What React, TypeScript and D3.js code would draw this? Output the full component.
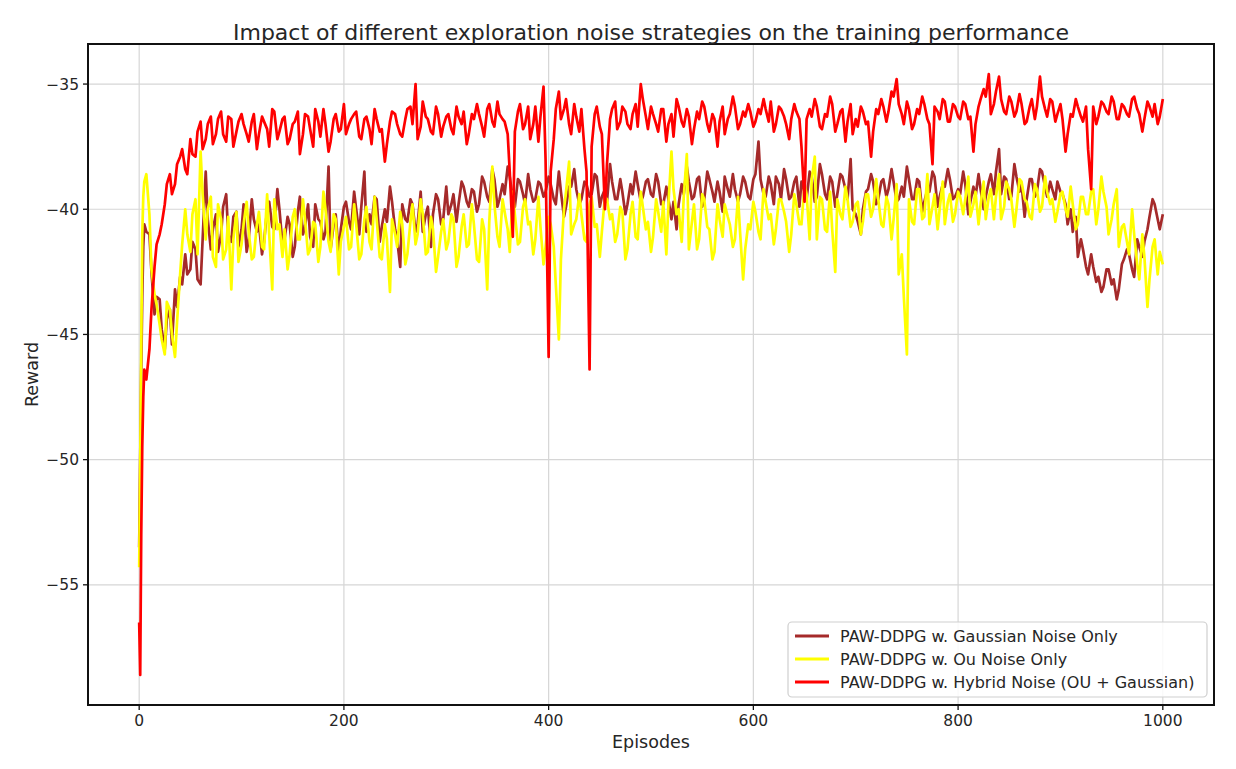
import React from 'react';
import * as d3 from 'd3';

// episodes read on a coarse grid: 0-4 one by one, then every 5th episode
const earlyEpisodes = [0, 1, 2, 3, 4];
const episodes = [...earlyEpisodes, ...d3.range(5, 1001, 5)];
// extra readings between them (episodes 7, 12, ... 997)
const midEpisodes = d3.range(7, 1000, 5);

const gaussianReward = [
  -53.5, -50.0, -46.5, -43.5, -41.5,
  -40.6, -41.0, -44.2, -43.6, -45.6, -44.0, -43.2, -42.7, -41.8, -42.4, -41.6, -43.0, -38.5, -41.6, -40.2, -41.0, -39.4, -41.3, -40.1, -40.8,
  -41.7, -39.6, -40.9, -41.8, -40.0, -40.7, -39.2, -41.4, -40.3, -41.9, -40.1, -41.0, -39.8, -41.5, -40.4, -41.2, -38.3, -40.6, -41.8, -39.9,
  -40.5, -39.3, -41.0, -38.5, -40.2, -39.5, -41.3, -40.0, -39.1, -40.8, -42.3, -40.4, -39.6, -40.9, -39.3, -40.2, -41.5, -39.4, -40.6, -39.1,
  -39.8, -40.5, -38.9, -39.7, -39.2, -40.1, -38.7, -39.5, -38.4, -39.9, -39.0, -38.3, -39.6, -38.8, -39.4, -38.6, -39.7, -38.9, -39.5, -38.7,
  -39.6, -38.5, -40.3, -39.1, -38.4, -39.8, -38.9, -39.5, -38.6, -39.9, -39.2, -38.2, -39.6, -38.8, -40.2, -39.0, -38.5, -39.7, -38.9, -39.4,
  -38.6, -39.8, -39.1, -40.4, -40.8, -39.0, -38.3, -39.6, -38.8, -39.9, -38.5, -39.3, -38.9, -40.1, -39.2, -38.6, -39.7, -38.7, -39.5, -38.8,
  -37.3, -39.4, -38.7, -39.8, -39.0, -38.4, -39.6, -38.9, -39.9, -39.3, -38.5, -39.7, -38.2, -39.4, -38.7, -39.9, -38.6, -39.2, -38.0, -40.2,
  -41.0, -39.3, -38.6, -39.8, -38.9, -39.5, -38.4, -39.7, -39.1, -38.3, -39.6, -38.8, -40.1, -39.2, -38.5, -39.9, -39.0, -38.4, -39.6, -39.2,
  -38.5, -40.2, -39.1, -38.6, -40.0, -38.9, -39.4, -37.6, -38.7, -39.6, -38.2, -39.3, -40.3, -38.8, -39.5, -38.4, -39.1, -38.9, -39.6, -39.3,
  -39.8, -40.0, -40.3, -41.2, -42.3, -41.8, -42.9, -43.3, -42.4, -43.0, -43.6, -42.2, -41.6, -42.4, -41.2, -41.9, -40.8, -39.6, -40.4, -40.2,
];
const gaussianRewardMid = [
  -40.9, -42.5, -43.5, -44.8, -44.4, -45.4, -43.9, -43.0, -42.6, -41.3, -42.8, -41.2, -40.4, -40.8, -41.7, -39.9, -41.0, -40.3, -41.5,
  -39.8, -41.2, -40.4, -40.6, -41.3, -39.7, -40.8, -40.0, -41.2, -40.6, -41.5, -39.5, -40.7, -41.1, -39.8, -40.5, -40.9, -41.6, -40.2, -40.8,
  -39.7, -40.8, -40.0, -39.9, -40.9, -40.6, -39.6, -40.7, -40.5, -39.7, -41.2, -39.8, -40.5, -39.8, -40.6, -40.9, -39.9, -40.2, -39.6, -40.4,
  -40.2, -39.4, -39.8, -39.1, -39.9, -39.3, -39.8, -38.9, -39.7, -38.8, -39.6, -39.4, -38.7, -39.9, -38.9, -39.8, -39.2, -39.6, -39.0, -39.3,
  -39.0, -39.8, -39.3, -39.9, -39.1, -39.2, -39.6, -39.0, -39.4, -38.7, -39.5, -39.7, -38.9, -39.6, -39.3, -39.8, -39.4, -39.0, -39.5, -38.8,
  -39.5, -38.9, -39.8, -39.6, -39.7, -39.8, -39.4, -38.9, -39.5, -38.7, -39.6, -38.8, -39.7, -39.3, -38.7, -39.5, -39.2, -39.4, -38.9, -39.6,
  -38.6, -38.8, -39.5, -39.0, -38.7, -39.6, -38.8, -39.5, -38.7, -38.9, -39.6, -38.7, -39.5, -38.6, -39.6, -38.9, -39.4, -38.7, -39.6, -40.0,
  -40.5, -40.0, -39.2, -38.9, -39.6, -38.8, -39.2, -38.9, -39.6, -39.5, -38.8, -39.6, -38.9, -39.7, -39.3, -38.7, -39.5, -39.1, -38.8, -39.5,
  -39.4, -39.0, -39.7, -39.5, -39.2, -39.5, -38.6, -38.5, -39.4, -38.8, -39.5, -38.7, -39.0, -39.6, -38.8, -39.3, -38.5, -39.5, -39.2, -38.9,
  -39.4, -40.6, -40.9, -41.9, -41.6, -42.6, -42.3, -42.7, -43.1, -42.4, -42.8, -43.2, -42.0, -41.8, -42.7, -41.5, -41.3, -40.3, -39.8, -40.8,
];

const ouReward = [
  -54.3, -50.2, -45.5, -41.0, -39.5,
  -38.9, -40.2, -43.4, -44.6, -45.8, -44.0, -45.9, -42.6, -40.0, -41.7, -39.6, -37.7, -41.2, -39.5, -42.3, -40.4, -41.6, -43.2, -40.1, -41.4,
  -39.7, -42.0, -40.6, -41.5, -39.4, -43.2, -40.8, -41.9, -42.4, -40.3, -41.2, -39.6, -41.8, -40.5, -42.1, -39.3, -41.3, -40.2, -42.6, -40.7,
  -41.6, -39.8, -42.0, -40.4, -41.3, -39.5, -41.9, -40.6, -43.3, -41.0, -40.1, -42.2, -40.5, -41.4, -39.6, -41.8, -40.3, -42.5, -40.9, -41.6,
  -40.2, -42.3, -40.7, -41.5, -39.8, -42.0, -40.4, -43.2, -38.3, -41.1, -39.6, -40.8, -39.3, -41.4, -39.9, -40.6, -41.8, -39.5, -42.2, -40.3,
  -41.5, -45.2, -40.0, -38.1, -40.6, -39.4, -41.2, -39.8, -40.7, -41.9, -39.5, -40.4, -41.3, -39.9, -42.0, -40.2, -41.1, -39.3, -40.8, -41.7,
  -39.6, -40.9, -41.8, -37.7, -40.2, -41.3, -37.8, -40.5, -41.6, -39.4, -40.7, -42.0, -39.8, -41.1, -40.3, -41.5, -39.5, -42.8, -40.6, -39.7,
  -40.9, -39.2, -40.4, -41.4, -39.6, -40.1, -41.7, -39.4, -40.6, -39.0, -41.2, -37.9, -39.5, -40.8, -39.3, -42.5, -40.2, -39.1, -40.7, -39.8,
  -41.0, -39.4, -40.3, -38.8, -40.6, -39.5, -41.2, -39.0, -41.8, -45.8, -40.5, -39.2, -40.4, -38.6, -39.9, -40.8, -38.9, -39.7, -40.5, -39.3,
  -40.2, -38.7, -39.8, -40.6, -38.9, -39.5, -40.4, -38.6, -39.9, -39.2, -40.7, -38.8, -39.6, -40.3, -39.0, -40.1, -38.7, -39.8, -40.5, -39.4,
  -40.0, -39.1, -40.8, -39.5, -40.2, -39.3, -40.6, -38.7, -39.9, -40.4, -39.2, -40.7, -41.3, -40.0, -42.2, -41.0, -43.9, -41.5, -42.6, -42.2,
];
const ouRewardMid = [
  -38.6, -42.4, -43.8, -45.2, -43.7, -45.0, -44.5, -41.4, -41.0, -40.2, -41.8, -39.4, -40.0, -41.9, -39.8, -42.0, -40.3, -41.2, -42.1,
  -40.6, -40.9, -41.9, -40.1, -41.6, -41.0, -39.6, -40.6, -40.8, -41.8, -40.0, -41.2, -40.4, -41.6, -40.6, -41.5, -40.0, -41.7, -40.4, -41.3,
  -40.3, -41.5, -40.6, -41.8, -39.9, -41.6, -40.4, -42.0, -41.2, -40.4, -41.5, -40.6, -41.8, -39.8, -41.0, -40.2, -41.7, -40.8, -41.9, -40.4,
  -41.3, -40.4, -41.9, -40.2, -41.4, -40.6, -42.1, -40.8, -40.5, -39.8, -41.5, -40.1, -41.7, -40.2, -41.3, -39.6, -40.5, -41.2, -40.7, -41.5,
  -40.6, -43.0, -42.0, -39.3, -41.0, -40.4, -40.2, -41.3, -39.5, -40.6, -40.9, -39.6, -40.2, -41.0, -40.1, -41.6, -39.7, -41.2, -39.9, -40.5,
  -41.1, -40.1, -39.7, -39.8, -39.2, -40.0, -39.5, -41.6, -39.8, -41.2, -39.6, -40.8, -41.7, -40.4, -39.8, -40.6, -41.2, -40.9, -41.6, -40.8,
  -40.1, -41.2, -39.7, -40.2, -40.8, -39.6, -40.5, -41.0, -39.8, -40.6, -39.4, -38.8, -41.2, -39.6, -40.9, -40.8, -39.6, -40.4, -39.6, -40.5,
  -39.7, -40.5, -39.4, -40.0, -39.6, -40.7, -39.8, -40.4, -42.6, -43.5, -39.6, -40.6, -39.2, -40.3, -40.6, -39.4, -40.0, -40.6, -39.4, -40.2,
  -39.5, -39.6, -40.3, -39.3, -39.8, -40.4, -39.2, -39.5, -40.4, -38.9, -39.6, -40.0, -38.9, -39.7, -40.4, -39.2, -39.9, -39.3, -39.6, -40.1,
  -39.3, -40.3, -39.8, -40.6, -39.5, -40.2, -39.2, -40.0, -39.3, -41.0, -39.8, -41.5, -40.6, -41.8, -41.0, -42.8, -41.9, -42.8, -41.2, -41.7,
];

const hybridReward = [
  -56.5, -58.6, -53.0, -49.5, -47.5,
  -46.4, -45.6, -42.3, -41.0, -39.8, -38.6, -39.0, -37.9, -38.4, -37.2, -37.9, -36.5, -37.2, -36.3, -37.0, -36.1, -37.3, -36.4, -36.9, -36.2,
  -37.0, -36.5, -37.6, -36.3, -36.8, -36.0, -37.2, -36.4, -37.4, -36.6, -36.1, -37.0, -36.3, -37.5, -36.5, -36.0, -37.7, -36.4, -36.9, -35.8,
  -36.6, -36.2, -37.1, -36.4, -36.8, -36.0, -36.9, -38.1, -36.5, -36.2, -37.0, -36.4, -35.9, -35.0, -36.7, -36.3, -36.9, -35.9, -37.1, -36.3,
  -36.8, -35.9, -36.6, -37.4, -36.2, -35.8, -36.7, -36.0, -36.5, -35.7, -36.4, -37.0, -41.1, -36.1, -36.8, -35.9, -36.6, -37.3, -35.1, -45.9,
  -37.2, -35.3, -36.0, -36.6, -35.8, -36.9, -37.6, -46.4, -36.2, -36.7, -40.0, -36.4, -35.7, -36.5, -36.1, -36.8, -35.8, -35.0, -36.3, -35.9,
  -36.6, -36.0, -37.3, -36.2, -35.6, -36.5, -36.0, -37.4, -36.1, -35.7, -36.6, -36.2, -37.5, -35.9, -36.4, -35.5, -36.8, -36.1, -35.8, -36.7,
  -36.0, -35.6, -36.5, -36.9, -35.9, -36.3, -37.2, -35.8, -36.4, -39.7, -36.0, -35.6, -36.7, -36.2, -35.5, -36.9, -36.1, -37.3, -35.8, -36.4,
  -35.9, -36.6, -37.9, -36.0, -35.6, -36.5, -35.3, -34.8, -36.2, -35.7, -36.8, -36.0, -35.5, -36.4, -38.2, -36.1, -35.6, -36.5, -35.8, -36.3,
  -35.7, -36.4, -37.7, -35.9, -35.2, -34.6, -35.8, -34.7, -36.1, -35.5, -36.3, -35.4, -36.6, -35.9, -36.4, -34.7, -36.0, -35.6, -36.5, -35.8,
  -37.7, -36.2, -35.6, -36.3, -35.9, -39.2, -36.6, -35.7, -36.1, -35.5, -36.4, -35.8, -36.2, -35.6, -36.0, -36.9, -35.7, -36.3, -36.6, -35.6,
];
const hybridRewardMid = [
  -46.8, -44.0, -41.4, -40.6, -39.0, -39.4, -38.2, -37.6, -38.6, -37.8, -36.9, -37.6, -36.6, -37.4, -36.4, -37.0, -36.3, -37.5, -36.5,
  -36.6, -37.3, -36.2, -37.0, -36.5, -37.5, -36.1, -36.9, -36.3, -37.2, -36.5, -37.8, -36.2, -36.8, -36.0, -37.1, -36.6, -37.3, -36.2, -36.8,
  -37.0, -36.4, -36.1, -37.2, -36.3, -37.4, -36.4, -36.8, -37.4, -36.1, -36.6, -37.1, -36.0, -36.6, -37.2, -35.7, -36.4, -37.0, -36.2, -36.7,
  -36.2, -37.0, -36.3, -36.1, -37.0, -36.4, -36.2, -37.1, -35.8, -36.7, -36.2, -36.5, -38.5, -36.9, -35.8, -36.6, -37.2, -35.9, -36.3, -38.0,
  -38.5, -36.0, -36.4, -35.6, -37.0, -36.3, -36.0, -38.5, -37.5, -35.9, -37.0, -38.2, -36.0, -36.8, -35.9, -36.6, -36.2, -36.7, -35.6, -36.8,
  -36.2, -36.9, -36.0, -36.6, -37.1, -35.9, -36.7, -36.3, -36.8, -36.4, -35.9, -36.9, -36.4, -36.5, -37.0, -36.2, -35.9, -36.6, -36.3, -36.1,
  -36.5, -36.2, -36.0, -35.7, -36.6, -36.0, -36.6, -36.4, -36.1, -37.5, -36.4, -36.3, -35.9, -36.8, -36.3, -35.8, -36.6, -36.0, -36.5, -37.0,
  -36.7, -36.1, -36.5, -36.9, -36.2, -35.9, -36.1, -35.5, -35.8, -36.6, -36.0, -36.6, -36.2, -35.8, -36.6, -35.9, -36.4, -35.7, -36.5, -35.9,
  -36.4, -35.8, -36.3, -36.6, -35.6, -35.5, -36.2, -35.3, -35.6, -36.2, -35.7, -36.1, -35.8, -36.5, -35.6, -35.9, -35.5, -36.3, -35.7, -36.2,
  -36.4, -37.0, -36.3, -35.9, -36.5, -37.6, -35.9, -36.3, -35.8, -36.2, -35.7, -36.4, -35.9, -36.3, -35.5, -36.2, -36.4, -35.9, -35.8, -36.3,
];

const seriesNames = [
  'PAW-DDPG w. Gaussian Noise Only',
  'PAW-DDPG w. Ou Noise Only',
  'PAW-DDPG w. Hybrid Noise (OU + Gaussian)',
];
const seriesColors = ['#a52a2a', '#ffff00', '#ff0000'];
const xTicks = [0, 200, 400, 600, 800, 1000];
const yTicks = [-55, -50, -45, -40, -35];

const W = 1236;
const H = 769;
const margin = { left: 88, right: 1214, top: 44, bottom: 705 };
const font = '"DejaVu Sans", sans-serif';
const ink = '#262626';

const fmt = (v: number) => String(v).replace('-', '\u2212');

type Pt = { ep: number; v: number };

// merge coarse + in-between readings into one episode-ordered series
function merge(main: number[], mid: number[]): Pt[] {
  const pts: Pt[] = [
    ...main.map((v, i) => ({ ep: episodes[i], v })),
    ...mid.map((v, i) => ({ ep: midEpisodes[i], v })),
  ];
  return pts.sort((a, b) => a.ep - b.ep);
}

export default function App() {
  const allSeries = [
    merge(gaussianReward, gaussianRewardMid),
    merge(ouReward, ouRewardMid),
    merge(hybridReward, hybridRewardMid),
  ];
  const allValues = allSeries.flat().map(p => p.v);
  const yMin = d3.min(allValues) as number;
  const yMax = d3.max(allValues) as number;
  const yPad = (yMax - yMin) * 0.05;
  const xPad = 1000 * 0.05;

  const x = d3.scaleLinear().domain([-xPad, 1000 + xPad]).range([margin.left, margin.right]);
  const y = d3.scaleLinear().domain([yMin - yPad, yMax + yPad]).range([margin.bottom, margin.top]);

  const line = d3
    .line<Pt>()
    .x(d => x(d.ep))
    .y(d => y(d.v));

  const legendX = 788;
  const legendY = 622;

  return (
    <div style={{ position: 'absolute', left: 0, top: 0 }}>
      <svg width={W} height={H} style={{ display: 'block', background: '#fff' }}>
        <defs>
          <clipPath id="plot-clip">
            <rect x={margin.left} y={margin.top} width={margin.right - margin.left} height={margin.bottom - margin.top} />
          </clipPath>
        </defs>

        {/* grid */}
        {xTicks.map(t => (
          <line key={'gx' + t} x1={x(t)} x2={x(t)} y1={margin.top} y2={margin.bottom} stroke="#d6d6d6" strokeWidth={1.2} />
        ))}
        {yTicks.map(t => (
          <line key={'gy' + t} x1={margin.left} x2={margin.right} y1={y(t)} y2={y(t)} stroke="#d6d6d6" strokeWidth={1.2} />
        ))}

        {/* series */}
        <g clipPath="url(#plot-clip)">
          {allSeries.map((s, i) => (
            <path
              key={seriesNames[i]}
              d={line(s) ?? ''}
              fill="none"
              stroke={seriesColors[i]}
              strokeWidth={2.7}
              strokeLinejoin="round"
            />
          ))}
        </g>

        {/* frame */}
        <rect
          x={margin.left}
          y={margin.top}
          width={margin.right - margin.left}
          height={margin.bottom - margin.top}
          fill="none"
          stroke="#111"
          strokeWidth={2}
        />

        {/* x axis */}
        {xTicks.map(t => (
          <g key={'xt' + t}>
            <line x1={x(t)} x2={x(t)} y1={margin.bottom} y2={margin.bottom + 5} stroke="#111" strokeWidth={1.3} />
            <text x={x(t)} y={margin.bottom + 21} textAnchor="middle" fontFamily={font} fontSize={15.5} fill={ink}>
              {fmt(t)}
            </text>
          </g>
        ))}
        <text x={(margin.left + margin.right) / 2} y={748} textAnchor="middle" fontFamily={font} fontSize={17.5} fill={ink}>
          Episodes
        </text>

        {/* y axis */}
        {yTicks.map(t => (
          <g key={'yt' + t}>
            <line x1={margin.left - 5} x2={margin.left} y1={y(t)} y2={y(t)} stroke="#111" strokeWidth={1.3} />
            <text x={margin.left - 9} y={y(t) + 5.5} textAnchor="end" fontFamily={font} fontSize={15.5} fill={ink}>
              {fmt(t)}
            </text>
          </g>
        ))}
        <text
          transform={`translate(38,${(margin.top + margin.bottom) / 2}) rotate(-90)`}
          textAnchor="middle"
          fontFamily={font}
          fontSize={17.5}
          fill={ink}
        >
          Reward
        </text>

        {/* title */}
        <text x={(margin.left + margin.right) / 2} y={40} textAnchor="middle" fontFamily={font} fontSize={22} fill={ink}>
          Impact of different exploration noise strategies on the training performance
        </text>

        {/* legend */}
        <g>
          <rect x={legendX} y={legendY} width={419} height={75} rx={4} fill="#fff" fillOpacity={0.85} stroke="#cfcfcf" strokeWidth={1.2} />
          {seriesNames.map((name, i) => (
            <g key={'lg' + name}>
              <line
                x1={legendX + 7}
                x2={legendX + 41}
                y1={legendY + 14 + i * 23}
                y2={legendY + 14 + i * 23}
                stroke={seriesColors[i]}
                strokeWidth={2.9}
              />
              <text x={legendX + 52} y={legendY + 19.5 + i * 23} fontFamily={font} fontSize={16} fill={ink}>
                {name}
              </text>
            </g>
          ))}
        </g>
      </svg>
    </div>
  );
}
